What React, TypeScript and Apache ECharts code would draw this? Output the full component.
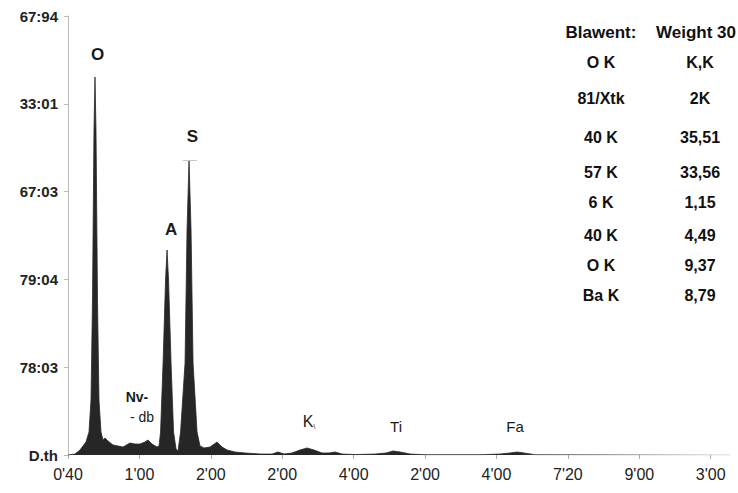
import React, { useEffect, useRef } from "react";
import * as echarts from "echarts";

// Spectrum: energy (x) and counts (y)
const energy = [
  0, 0.098, 0.168, 0.252, 0.294, 0.322, 0.343, 0.364, 0.378, 0.392, 0.413, 0.434, 0.462, 0.49,
  0.518, 0.56, 0.63, 0.7, 0.77, 0.868, 0.938, 1.008, 1.078, 1.12, 1.176, 1.246, 1.275, 1.296,
  1.331, 1.366, 1.387, 1.408, 1.443, 1.478, 1.513, 1.541, 1.576, 1.639, 1.667, 1.695, 1.723,
  1.751, 1.807, 1.849, 1.905, 1.989, 2.087, 2.157, 2.227, 2.339, 2.479, 2.689, 2.857, 2.941,
  3.025, 3.137, 3.249, 3.347, 3.445, 3.557, 3.655, 3.739, 3.838, 4.02, 4.3, 4.454, 4.552, 4.65,
  4.79, 5.0, 5.77, 6.05, 6.19, 6.289, 6.387, 6.541, 7.45, 9.27,
];
const counts = [
  0, 11, 57, 148, 262, 626, 1765, 3702, 4305, 3702, 1765, 626, 262, 171,
  194, 159, 114, 103, 91, 137, 125, 125, 148, 171, 125, 91, 103, 262,
  1048, 1993, 2335, 1993, 1048, 262, 68, 46, 262, 1048, 2563, 3360, 2563,
  1048, 262, 103, 80, 91, 148, 91, 57, 34, 23, 11, 11, 34,
  11, 23, 57, 80, 57, 23, 23, 34, 11, 5, 11, 23, 46, 34,
  11, 3, 3, 11, 23, 34, 23, 3, 2, 0,
];

const xTickValues = [0, 1, 2, 3, 4, 5, 6, 7, 8, 9];
const xTickLabels = ["0'40", "1'00", "2'00", "2'00", "4'00", "2'00", "4'00", "7'20", "9'00", "3'00"];
const yTickLabels = ["D.th", "78:03", "79:04", "67:03", "33:01", "67:94"];

const peakLabels = ["O", "S", "A", "Nv-", "- db", "K", "Ti", "Fa"];
const peakLabelEnergy = [0.413, 1.744, 1.443, 0.966, 1.036, 3.375, 4.594, 6.26];
const peakLabelCounts = [4567, 3622, 2574, 661, 433, 387, 319, 319];

const sPeakEnergy = 1.695;
const sPeakCounts = 3360;

const tableHeader = ["Blawent:", "Weight 30"];
const tableElements = ["O K", "81/Xtk", "40 K", "57 K", "6 K", "40 K", "O K", "Ba K"];
const tableWeights = ["K,K", "2K", "35,51", "33,56", "1,15", "4,49", "9,37", "8,79"];

// layout of the table (pixels)
const COL_X = [601, 700];
const HEADER_Y = 32;
const ROW_Y = [62, 98, 137, 172, 202, 235, 265, 295];

const FONT = "'Liberation Sans', Arial, Helvetica, sans-serif";

export default function App() {
  const ref = useRef<HTMLDivElement>(null);
  useEffect(() => {
    if (!ref.current) return;
    const chart = echarts.init(ref.current, null, { renderer: "svg" });
    const data = energy.map((e, i) => [e, counts[i]]);

    const graphics: any[] = [];
    tableHeader.forEach((t, c) => {
      graphics.push({
        type: "text",
        x: COL_X[c] - (c === 1 ? 4 : 0),
        y: HEADER_Y,
        style: {
          text: t,
          fill: "#111",
          font: `bold 17px ${FONT}`,
          textAlign: "center",
          textVerticalAlign: "middle",
        },
      });
    });
    tableElements.forEach((t, r) => {
      graphics.push({
        type: "text",
        x: COL_X[0],
        y: ROW_Y[r],
        style: { text: t, fill: "#111", font: `bold 16px ${FONT}`, textAlign: "center", textVerticalAlign: "middle" },
      });
      graphics.push({
        type: "text",
        x: COL_X[1],
        y: ROW_Y[r],
        style: { text: tableWeights[r], fill: "#111", font: `bold 16px ${FONT}`, textAlign: "center", textVerticalAlign: "middle" },
      });
    });

    const fade = new echarts.graphic.LinearGradient(0, 0, 1, 0, [
      { offset: 0, color: "#262626" },
      { offset: 0.68, color: "#262626" },
      { offset: 1, color: "#c8c8c8" },
    ]);

    chart.setOption({
      animation: false,
      backgroundColor: "#ffffff",
      grid: { left: 68, right: 8, top: 16, bottom: 38, containLabel: false },
      xAxis: {
        type: "value",
        min: 0,
        max: 9.27,
        axisLine: { show: true, lineStyle: { color: fade, width: 2 } },
        axisTick: { show: true, customValues: xTickValues, length: 4, lineStyle: { color: "#aaa" } },
        axisLabel: {
          customValues: xTickValues,
          formatter: (v: number) => xTickLabels[Math.round(v)] ?? "",
          color: "#222",
          fontSize: 16,
          fontFamily: FONT,
          margin: 11,
        },
        splitLine: { show: false },
      },
      yAxis: {
        type: "value",
        min: 0,
        max: 5000,
        interval: 1000,
        axisLine: { show: true, lineStyle: { color: "#bbb", width: 1 } },
        axisTick: { show: true, length: 4, lineStyle: { color: "#bbb" } },
        axisLabel: {
          formatter: (v: number) => yTickLabels[Math.round(v / 1000)] ?? "",
          color: "#222",
          fontSize: 15,
          fontWeight: "bold",
          fontFamily: FONT,
          margin: 10,
        },
        splitLine: { show: false },
      },
      series: [
        {
          type: "line",
          data,
          showSymbol: false,
          smooth: false,
          lineStyle: { color: fade, width: 0.8 },
          areaStyle: { color: fade, opacity: 1 },
          markLine: {
            silent: true,
            symbol: "none",
            label: { show: false },
            lineStyle: { color: "#c4c4c4", width: 1, type: "solid" },
            data: [[{ coord: [sPeakEnergy - 0.09, sPeakCounts] }, { coord: [sPeakEnergy + 0.11, sPeakCounts] }]],
          },
          markPoint: {
            silent: true,
            symbol: "circle",
            symbolSize: 1,
            itemStyle: { color: "rgba(0,0,0,0)" },
            label: {
              show: true,
              position: "inside",
              color: "#1a1a1a",
              fontSize: 15,
              fontFamily: FONT,
            },
            data: peakLabels.map((t, i) => ({
              coord: [peakLabelEnergy[i], peakLabelCounts[i]],
              label: {
                formatter: t === "K" ? "{k|K}{s|\\}" : t,
                fontSize: i < 3 ? 17 : i < 5 ? 14 : 15,
                fontWeight: i < 4 ? "bold" : "normal",
                rich: {
                  k: { fontSize: 16, color: "#1a1a1a", fontFamily: FONT },
                  s: { fontSize: 7, color: "#1a1a1a", padding: [10, 0, 0, 0], fontFamily: FONT },
                },
              },
            })),
          },
        },
      ],
      graphic: graphics,
    });
    return () => chart.dispose();
  }, []);
  return <div ref={ref} style={{ position: "fixed", left: 0, top: 0, width: 738, height: 493 }} />;
}
